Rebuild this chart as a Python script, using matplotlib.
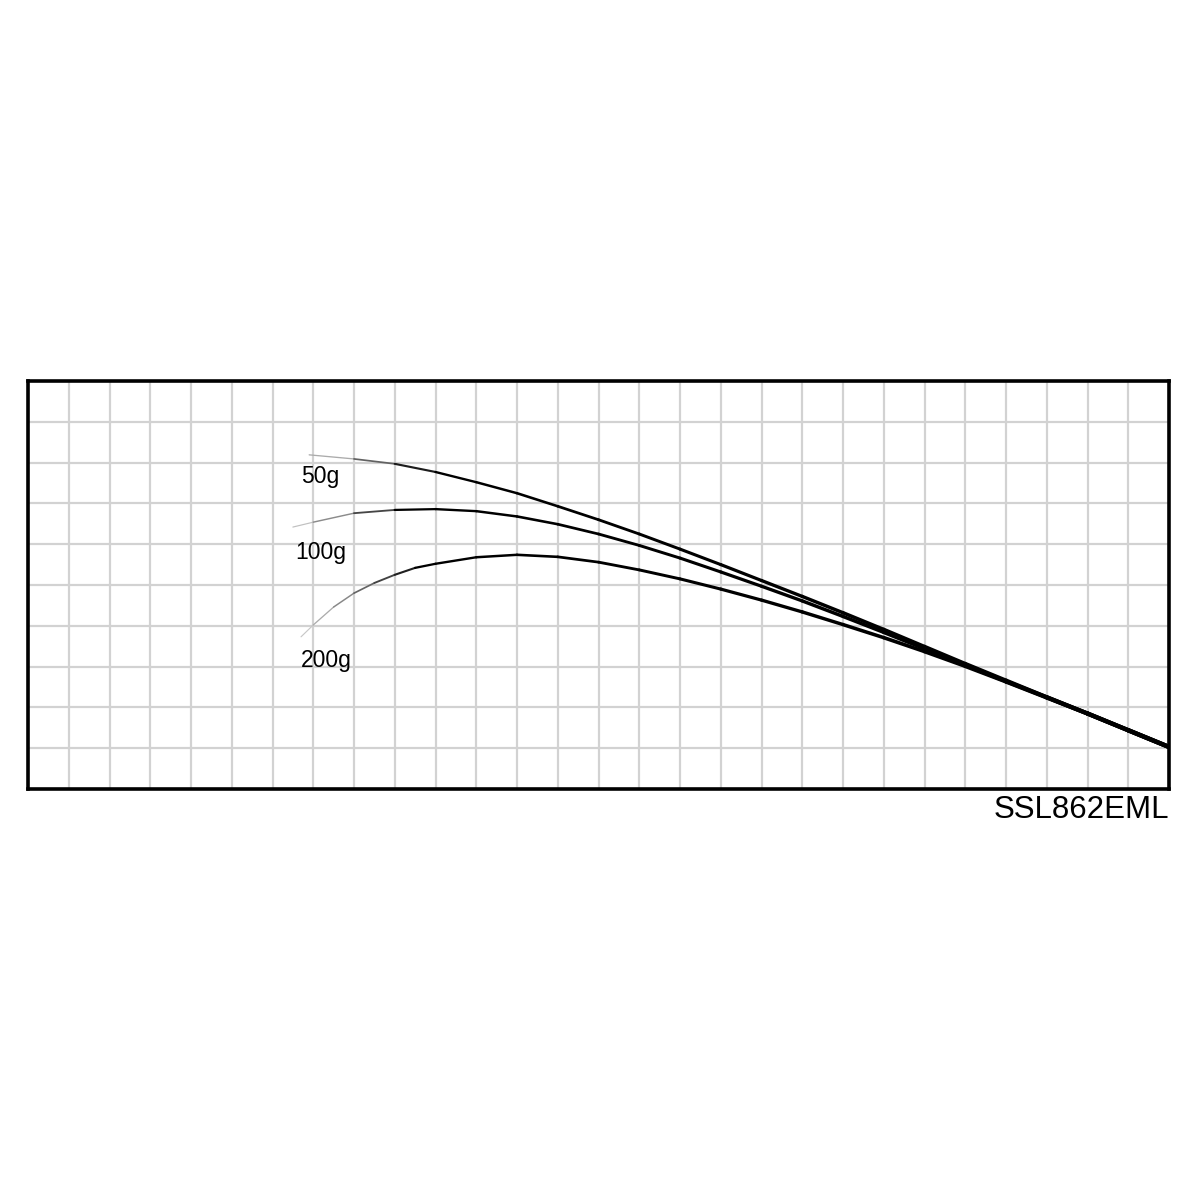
import matplotlib
matplotlib.use("Agg")
import matplotlib.pyplot as plt
from matplotlib.collections import LineCollection
import numpy as np

# rod bending curves, in grid units (28 x 10 cells)
x_50g = [6.9, 8, 9, 10, 11, 12, 13, 14, 15, 16, 17, 18, 19, 20, 21, 22, 23, 24, 25, 26, 27, 28]
y_50g = [8.19, 8.09, 7.97, 7.77, 7.52, 7.25, 6.93, 6.60, 6.25, 5.88, 5.50, 5.11, 4.72, 4.32,
         3.91, 3.49, 3.07, 2.66, 2.25, 1.85, 1.44, 1.03]

x_100g = [6.5, 7, 8, 9, 10, 11, 12, 13, 14, 15, 16, 17, 18, 19, 20, 21, 22, 23, 24, 25, 26, 27, 28]
y_100g = [6.42, 6.54, 6.76, 6.84, 6.86, 6.81, 6.68, 6.49, 6.25, 5.97, 5.66, 5.32, 4.97, 4.61,
          4.23, 3.84, 3.44, 3.04, 2.64, 2.25, 1.85, 1.44, 1.03]

x_200g = [6.7, 7, 7.5, 8, 8.5, 9, 9.5, 10, 11, 12, 13, 14, 15, 16, 17, 18, 19, 20, 21, 22, 23,
          24, 25, 26, 27, 28]
y_200g = [3.73, 4.02, 4.46, 4.80, 5.05, 5.25, 5.42, 5.52, 5.68, 5.74, 5.69, 5.56, 5.37, 5.15,
          4.90, 4.63, 4.34, 4.03, 3.71, 3.37, 3.01, 2.63, 2.24, 1.85, 1.44, 1.03]

labels = ["50g", "100g", "200g"]
label_pos = [(6.7, 7.5), (6.55, 5.64), (6.7, 2.99)]
model = "SSL862EML"

fig = plt.figure(figsize=(12, 12), dpi=100)
ax = fig.add_axes([28 / 1200, 411 / 1200, 1141 / 1200, 408 / 1200])
ax.set_xlim(0, 28)
ax.set_ylim(0, 10)
ax.set_xticks(range(29))
ax.set_yticks(range(11))
ax.tick_params(length=0, labelbottom=False, labelleft=False)
ax.grid(True, color="#d2d2d2", linewidth=1.6)
ax.set_axisbelow(True)
for s in ax.spines.values():
    s.set_linewidth(2.6)
    s.set_color("black")


def draw_curve(xs, ys):
    xs = np.asarray(xs)
    ys = np.asarray(ys)
    pts = np.column_stack([xs, ys]).reshape(-1, 1, 2)
    segs = np.concatenate([pts[:-1], pts[1:]], axis=1)
    mid = (xs[:-1] + xs[1:]) / 2
    fade = np.clip((mid - xs[0]) / 3.0, 0, 1)
    g = 0.82 * (1 - fade)
    colors = [(v, v, v) for v in g]
    widths = 0.8 + 1.8 * np.clip((mid - 7) / 21, 0, 1) + 0.6 * fade
    lc = LineCollection(segs, colors=colors, linewidths=widths, capstyle="round",
                        joinstyle="round")
    ax.add_collection(lc)


for xs, ys in [(x_50g, y_50g), (x_100g, y_100g), (x_200g, y_200g)]:
    draw_curve(xs, ys)

for lab, (lx, ly) in zip(labels, label_pos):
    ax.text(lx, ly, lab, fontsize=16.5, family="Liberation Sans", ha="left", va="baseline")

fig.text(1169 / 1200, 1 - 818 / 1200, model, fontsize=22.5, family="Liberation Sans",
         ha="right", va="baseline")

fig.savefig("out.png", dpi=100)
